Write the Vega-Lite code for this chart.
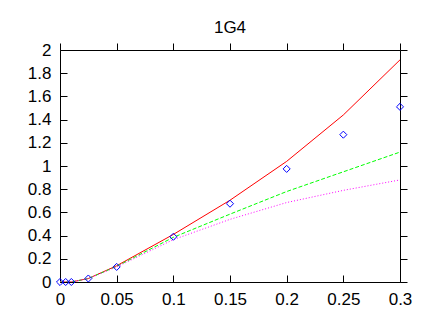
{
  "$schema": "https://vega.github.io/schema/vega-lite/v6.json",
  "autosize": "none",
  "width": 340,
  "height": 232,
  "padding": {"left": 60, "top": 50, "right": 29, "bottom": 35},
  "background": "white",
  "title": {"text": "1G4", "font": "Liberation Sans", "fontSize": 17, "fontWeight": "normal", "color": "black", "offset": 10, "dy": 6},
  "config": {
    "view": {"stroke": "black", "strokeWidth": 1},
    "axis": {"grid": false, "domain": false, "ticks": true, "zindex": 1, "labelFont": "Liberation Sans", "labelFontSize": 17, "labelColor": "black", "tickColor": "#000000", "tickSize": -7, "labelFlush": false, "labelOverlap": false, "title": null}
  },
  "datasets": {
    "lines": [
      {"x": 0, "y": 0, "s": "red"}, {"x": 0.005, "y": 0, "s": "red"}, {"x": 0.01, "y": 0, "s": "red"}, {"x": 0.025, "y": 0.03, "s": "red"}, {"x": 0.05, "y": 0.14, "s": "red"}, {"x": 0.1, "y": 0.41, "s": "red"}, {"x": 0.15, "y": 0.705, "s": "red"}, {"x": 0.2, "y": 1.04, "s": "red"}, {"x": 0.25, "y": 1.44, "s": "red"}, {"x": 0.3, "y": 1.915, "s": "red"},
      {"x": 0, "y": 0, "s": "green"}, {"x": 0.005, "y": 0, "s": "green"}, {"x": 0.01, "y": 0, "s": "green"}, {"x": 0.025, "y": 0.03, "s": "green"}, {"x": 0.05, "y": 0.135, "s": "green"}, {"x": 0.1, "y": 0.385, "s": "green"}, {"x": 0.15, "y": 0.585, "s": "green"}, {"x": 0.2, "y": 0.78, "s": "green"}, {"x": 0.25, "y": 0.95, "s": "green"}, {"x": 0.3, "y": 1.12, "s": "green"},
      {"x": 0, "y": 0, "s": "magenta"}, {"x": 0.005, "y": 0, "s": "magenta"}, {"x": 0.01, "y": 0, "s": "magenta"}, {"x": 0.025, "y": 0.03, "s": "magenta"}, {"x": 0.05, "y": 0.13, "s": "magenta"}, {"x": 0.1, "y": 0.365, "s": "magenta"}, {"x": 0.15, "y": 0.54, "s": "magenta"}, {"x": 0.2, "y": 0.685, "s": "magenta"}, {"x": 0.25, "y": 0.79, "s": "magenta"}, {"x": 0.3, "y": 0.88, "s": "magenta"}
    ],
    "points": [
      {"x": 0, "y": 0}, {"x": 0.005, "y": 0}, {"x": 0.01, "y": 0}, {"x": 0.025, "y": 0.03}, {"x": 0.05, "y": 0.13}, {"x": 0.1, "y": 0.39}, {"x": 0.15, "y": 0.675}, {"x": 0.2, "y": 0.975}, {"x": 0.25, "y": 1.27}, {"x": 0.3, "y": 1.51}
    ]
  },
  "resolve": {"axis": {"x": "independent", "y": "independent"}},
  "layer": [
    {
      "data": {"name": "lines"},
      "transform": [{"filter": "datum.s === 'red'"}],
      "mark": {"type": "line", "color": "#ff0000", "strokeWidth": 1, "clip": true},
      "encoding": {
        "x": {"field": "x", "type": "quantitative", "scale": {"domain": [0, 0.3], "nice": false, "zero": false},
              "axis": {"orient": "bottom", "values": [0, 0.05, 0.1, 0.15, 0.2, 0.25, 0.3], "format": "~g", "labelPadding": 16}},
        "y": {"field": "y", "type": "quantitative", "scale": {"domain": [0, 2], "nice": false},
              "axis": {"orient": "left", "values": [0, 0.2, 0.4, 0.6, 0.8, 1, 1.2, 1.4, 1.6, 1.8, 2], "format": "~g", "labelPadding": 16}}
      }
    },
    {
      "data": {"name": "lines"},
      "transform": [{"filter": "datum.s === 'green'"}],
      "mark": {"type": "line", "color": "#00ff00", "strokeWidth": 1, "strokeDash": [4, 2], "clip": true},
      "encoding": {
        "x": {"field": "x", "type": "quantitative", "axis": null},
        "y": {"field": "y", "type": "quantitative", "axis": null}
      }
    },
    {
      "data": {"name": "lines"},
      "transform": [{"filter": "datum.s === 'magenta'"}],
      "mark": {"type": "line", "color": "#ff00ff", "strokeWidth": 1, "strokeDash": [1, 2], "clip": true},
      "encoding": {
        "x": {"field": "x", "type": "quantitative", "axis": null},
        "y": {"field": "y", "type": "quantitative", "axis": null}
      }
    },
    {
      "data": {"name": "points"},
      "mark": {"type": "point", "shape": "diamond", "filled": false, "color": "#0000ff", "strokeWidth": 1, "size": 50, "opacity": 1},
      "encoding": {
        "x": {"field": "x", "type": "quantitative",
              "axis": {"orient": "top", "values": [0, 0.05, 0.1, 0.15, 0.2, 0.25, 0.3], "labels": false, "tickSize": 7}},
        "y": {"field": "y", "type": "quantitative",
              "axis": {"orient": "right", "values": [0, 0.2, 0.4, 0.6, 0.8, 1, 1.2, 1.4, 1.6, 1.8, 2], "labels": false, "tickSize": 7}}
      }
    }
  ]
}
